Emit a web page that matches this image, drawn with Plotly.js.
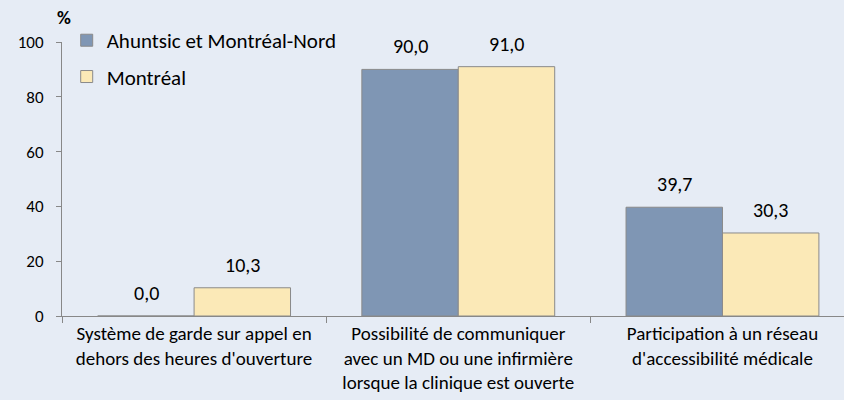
<!DOCTYPE html>
<html>
<head>
<meta charset="utf-8">
<script src="https://cdn.plot.ly/plotly-3.0.1.min.js"></script>
<style>
  html, body { margin: 0; padding: 0; background: #E6ECF5; }
  #plot { width: 844px; height: 400px; }
</style>
</head>
<body>
<div id="plot"></div>
<script>
// Categories and values
let categories = [
    "Système de garde sur appel en<br>dehors des heures d'ouverture",
    "Possibilité de communiquer<br>avec un MD ou une infirmière<br>lorsque la clinique est ouverte",
    "Participation à un réseau<br>d'accessibilité médicale"
];
let ahuntsic = [0.0, 90.0, 39.7];
let montreal = [10.3, 91.0, 30.3];

let font = "Carlito, Lato, Open Sans, sans-serif";

// Trace 1: Ahuntsic et Montréal-Nord
let trace1 = {
    x: categories,
    y: ahuntsic,
    name: "Ahuntsic et Montréal-Nord",
    legendgroup: "a",
    type: "bar",
    marker: { color: "#7F96B4", line: { color: "#8A8A8A", width: 1 } }
};

// Trace 2: Montréal
let trace2 = {
    x: categories,
    y: montreal,
    name: "Montréal",
    legendgroup: "b",
    type: "bar",
    marker: { color: "#FBE9B7", line: { color: "#8A8A8A", width: 1 } }
};

// value labels above each bar (left bar / right bar of each group)
let fmt = v => v.toFixed(1).replace(".", ",");
let labels = [];
for (let i = 0; i < categories.length; i++) {
    labels.push({ x: categories[i], y: ahuntsic[i], text: fmt(ahuntsic[i]), xshift: -48 });
    labels.push({ x: categories[i], y: montreal[i], text: fmt(montreal[i]), xshift: 48 });
}
labels = labels.map(a => Object.assign(a, {
    xref: "x", yref: "y", yanchor: "bottom", yshift: 9,
    showarrow: false, font: { size: 20 }
}));

labels.push({
    text: "<b>%</b>", xref: "paper", yref: "paper",
    x: 0.003, y: 1.091, xanchor: "center", yanchor: "middle",
    showarrow: false, font: { size: 19 }
});

let layout = {
    width: 844,
    height: 400,
    paper_bgcolor: "#E6ECF5",
    plot_bgcolor: "#E6ECF5",
    font: { family: font, color: "#000" },
    separators: ", ",
    margin: { l: 62, r: 0, t: 42, b: 84 },
    barmode: "group",
    bargap: 0.27,
    bargroupgap: 0,
    showlegend: true,
    legend: {
        x: 0.006, y: 1.08, xanchor: "left", yanchor: "top",
        bgcolor: "rgba(0,0,0,0)",
        font: { size: 21 },
        traceorder: "grouped",
        tracegroupgap: 6
    },
    xaxis: {
        type: "category",
        range: [-0.5, 2.46],
        showline: true, linecolor: "#888", linewidth: 1,
        ticks: "outside", tickson: "boundaries", ticklen: 6, tickcolor: "#888",
        tickfont: { size: 19 },
        showgrid: false
    },
    yaxis: {
        range: [0, 100],
        dtick: 20,
        showline: true, linecolor: "#888", linewidth: 1,
        ticks: "outside", ticklen: 5, tickcolor: "#888",
        ticklabelstandoff: 9,
        tickfont: { size: 17 },
        showgrid: false, zeroline: false
    },
    annotations: labels
};

Plotly.newPlot("plot", [trace1, trace2], layout, { displayModeBar: false });
</script>
</body>
</html>
